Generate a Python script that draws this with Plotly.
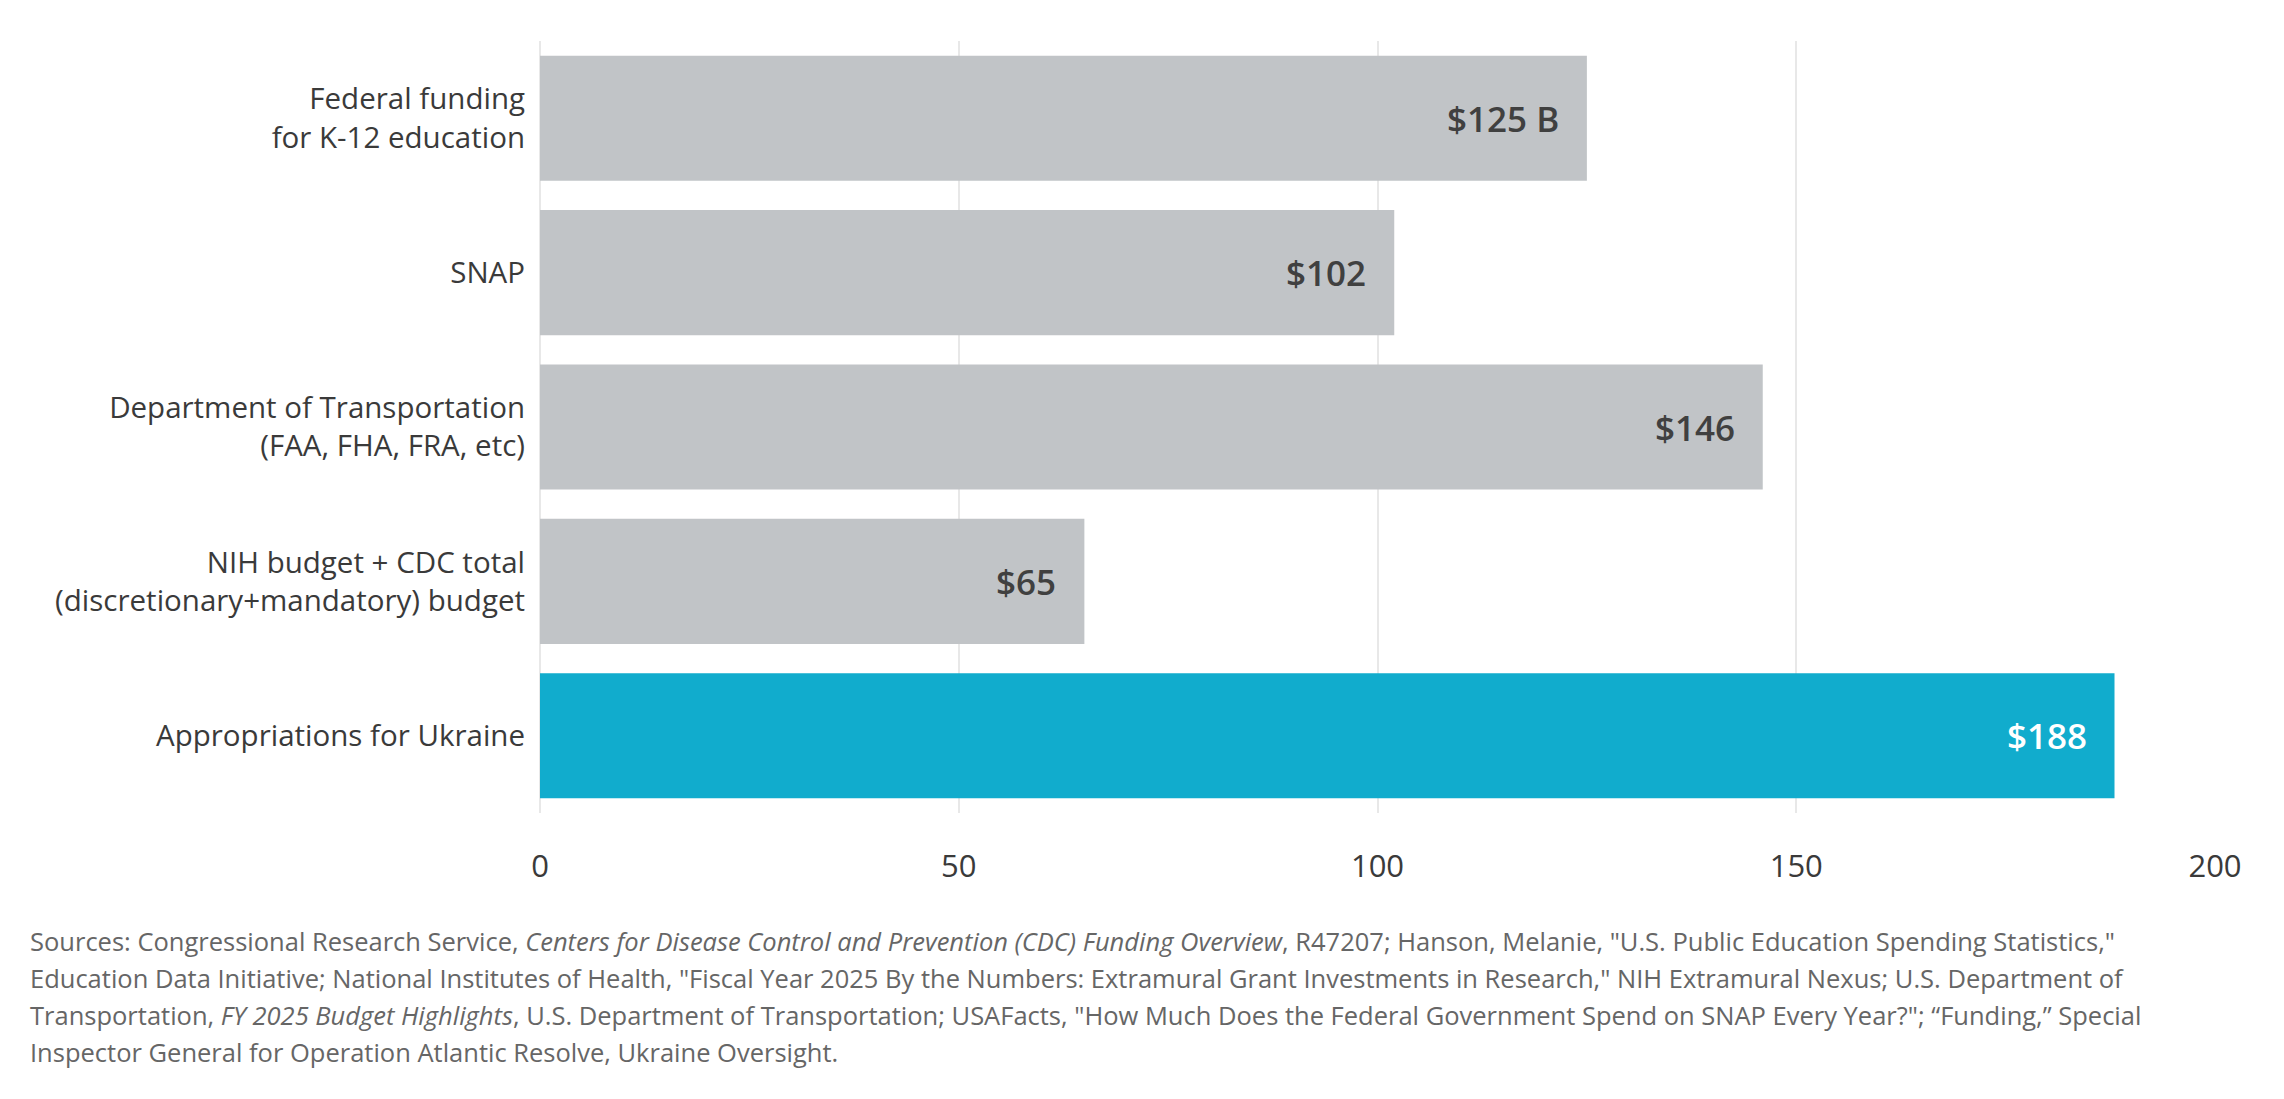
import plotly.graph_objects as go

categories = [
    "Federal funding<br>for K-12 education",
    "SNAP",
    "Department of Transportation<br>(FAA, FHA, FRA, etc)",
    "NIH budget + CDC total<br>(discretionary+mandatory) budget",
    "Appropriations for Ukraine",
]
values = [125, 102, 146, 65, 188]
value_labels = ["$125 B", "$102", "$146", "$65", "$188"]
highlight = [False, False, False, False, True]
x_ticks = [0, 50, 100, 150, 200]

source_lines = [
    "Sources: Congressional Research Service, <i>Centers for Disease Control and Prevention (CDC) Funding Overview</i>, R47207; Hanson, Melanie, \"U.S. Public Education Spending Statistics,\"",
    "Education Data Initiative; National Institutes of Health, \"Fiscal Year 2025 By the Numbers: Extramural Grant Investments in Research,\" NIH Extramural Nexus; U.S. Department of",
    "Transportation, <i>FY 2025 Budget Highlights</i>, U.S. Department of Transportation; USAFacts, \"How Much Does the Federal Government Spend on SNAP Every Year?\"; \u201cFunding,\u201d Special",
    "Inspector General for Operation Atlantic Resolve, Ukraine Oversight.",
]

GRAY = "#c1c4c7"
BLUE = "#11accd"
FONT = "Open Sans"

W, H = 2284, 1099
ML, MR, MT, MB = 532, 77, 33, 294
plot_w = W - ML - MR
plot_h = H - MT - MB

fig = go.Figure()
fig.add_trace(go.Bar(
    x=values,
    y=categories,
    orientation="h",
    marker=dict(color=[BLUE if h else GRAY for h in highlight], line=dict(width=0)),
    hoverinfo="skip",
))

# value labels just inside the bar end
for cat, v, lab, h in zip(categories, values, value_labels, highlight):
    fig.add_annotation(
        x=v, y=cat, xref="x", yref="y",
        text=lab,
        showarrow=False, xanchor="right", yanchor="middle", xshift=-26,
        font=dict(family=FONT, size=35, weight=600, color="#ffffff" if h else "#404040"),
    )

# sources footnote, one annotation per line
line_offsets = [128, 165, 202, 239]
for txt, off in zip(source_lines, line_offsets):
    fig.add_annotation(
        x=(20 - ML) / plot_w, y=-off / plot_h, xref="paper", yref="paper",
        text=txt, showarrow=False, xanchor="left", yanchor="middle", align="left",
        font=dict(family=FONT, size=25.5, color="#666666"),
    )

fig.update_layout(
    width=W, height=H,
    margin=dict(l=ML, r=MR, t=MT, b=MB),
    paper_bgcolor="white", plot_bgcolor="white",
    bargap=0.19,
    showlegend=False,
    font=dict(family=FONT, color="#3a3a3a"),
    xaxis=dict(
        range=[0, 200], tickvals=x_ticks, showgrid=True, gridcolor="#e8e8e8", gridwidth=1.5,
        zeroline=True, zerolinecolor="#e8e8e8", zerolinewidth=1.5,
        showline=False, ticks="", tickfont=dict(family=FONT, size=31, color="#3a3a3a"),
        ticklabelstandoff=32,
    ),
    yaxis=dict(
        autorange="reversed", showgrid=False, showline=False, ticks="",
        tickfont=dict(family=FONT, size=29.5, color="#3a3a3a"), ticklabelstandoff=14,
    ),
)

fig.write_html("out.html")
